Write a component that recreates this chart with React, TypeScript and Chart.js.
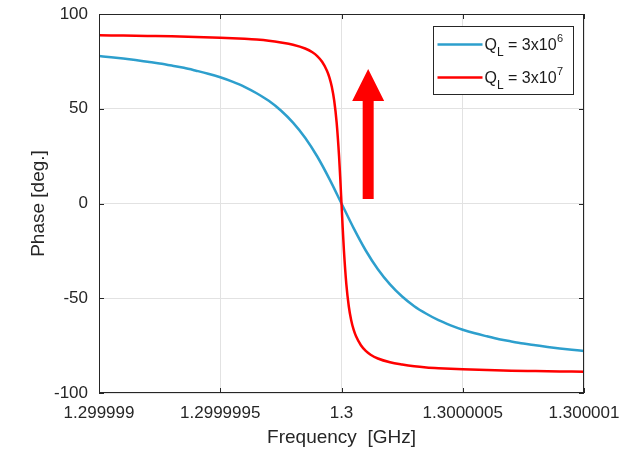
import React, { useEffect, useRef } from 'react';
import { Chart, registerables } from 'chart.js';

Chart.register(...registerables);

// ---------- data ----------
const blueFreq = [
  1.299999, 1.29999905, 1.2999991, 1.29999915, 1.2999992, 1.29999925, 1.2999993, 1.29999935,
  1.2999994, 1.29999945, 1.2999995, 1.29999955, 1.2999996, 1.29999965, 1.2999997, 1.29999975,
  1.2999998, 1.29999985, 1.2999999, 1.29999995, 1.3, 1.30000005, 1.3000001, 1.30000015,
  1.3000002, 1.30000025, 1.3000003, 1.30000035, 1.3000004, 1.30000045, 1.3000005, 1.30000055,
  1.3000006, 1.30000065, 1.3000007, 1.30000075, 1.3000008, 1.30000085, 1.3000009, 1.30000095,
  1.300001,
];
const bluePhase = [
  77.8, 77.2, 76.5, 75.7, 74.8, 73.9, 72.8, 71.6, 70.1, 68.5, 66.6, 64.3, 61.6, 58.2, 54.2, 49.1,
  42.7, 34.7, 24.8, 13.0, 0, -13.0, -24.8, -34.7, -42.7, -49.1, -54.2, -58.2, -61.6, -64.3, -66.6,
  -68.5, -70.1, -71.6, -72.8, -73.9, -74.8, -75.7, -76.5, -77.2, -77.8,
];

const redFreq = [
  1.299999, 1.2999991, 1.2999992, 1.2999993, 1.2999994, 1.2999995, 1.2999996, 1.29999965,
  1.2999997, 1.29999975, 1.2999998, 1.29999985, 1.29999988, 1.2999999, 1.29999992, 1.29999994,
  1.29999995, 1.29999996, 1.29999997, 1.29999998, 1.29999999, 1.299999995, 1.3, 1.300000005,
  1.30000001, 1.30000002, 1.30000003, 1.30000004, 1.30000005, 1.30000006, 1.30000008, 1.3000001,
  1.30000012, 1.30000015, 1.3000002, 1.30000025, 1.3000003, 1.30000035, 1.3000004, 1.3000005,
  1.3000006, 1.3000007, 1.3000008, 1.3000009, 1.300001,
];
const redPhase = [
  88.8, 88.6, 88.4, 88.2, 87.9, 87.5, 86.9, 86.5, 85.9, 85.0, 83.8, 81.8, 79.8, 77.8, 74.8, 70.1,
  66.6, 61.6, 54.2, 42.7, 24.8, 13.0, 0, -13.0, -24.8, -42.7, -54.2, -61.6, -66.6, -70.1, -74.8,
  -77.8, -79.8, -81.8, -83.8, -85.0, -85.9, -86.5, -86.9, -87.5, -87.9, -88.2, -88.4, -88.6, -88.8,
];

const seriesNames = ['QL = 3x10^6', 'QL = 3x10^7'];
const seriesExponents = ['6', '7'];

const xTickValues = [1.299999, 1.2999995, 1.3, 1.3000005, 1.300001];
const xTickLabels = ['1.299999', '1.2999995', '1.3', '1.3000005', '1.300001'];
const yTickValues = [-100, -50, 0, 50, 100];
const yTickLabels = ['-100', '-50', '0', '50', '100'];

const arrowFreq = 1.30000011;
const arrowFromPhase = 2.4;
const arrowToPhase = 71;

// ---------- styles ----------
const BLUE = '#2d9fcd';
const RED = '#ff0000';
const AXIS = '#262626';
const GRID = '#e2e2e2';
const FONT = '"Liberation Sans", Arial, Helvetica, sans-serif';

const framePlugin = {
  id: 'frame',
  afterDatasetsDraw(chart: any) {
    const { ctx, chartArea: a, scales } = chart;
    const xs = scales.x;
    const ys = scales.y;
    ctx.save();

    // arrow
    const ax = xs.getPixelForValue(arrowFreq);
    const ay0 = ys.getPixelForValue(arrowFromPhase);
    const ay1 = ys.getPixelForValue(arrowToPhase);
    const headLen = 32;
    const headHalf = 16;
    const shaftHalf = 5.5;
    ctx.fillStyle = RED;
    ctx.beginPath();
    ctx.moveTo(ax - shaftHalf, ay0);
    ctx.lineTo(ax - shaftHalf, ay1 + headLen);
    ctx.lineTo(ax - headHalf, ay1 + headLen);
    ctx.lineTo(ax, ay1);
    ctx.lineTo(ax + headHalf, ay1 + headLen);
    ctx.lineTo(ax + shaftHalf, ay1 + headLen);
    ctx.lineTo(ax + shaftHalf, ay0);
    ctx.closePath();
    ctx.fill();

    // inward ticks
    ctx.strokeStyle = AXIS;
    ctx.lineWidth = 1;
    ctx.beginPath();
    const tl = 5;
    xTickValues.forEach((v) => {
      const px = Math.round(xs.getPixelForValue(v)) + 0.5;
      ctx.moveTo(px, a.bottom);
      ctx.lineTo(px, a.bottom - tl);
      ctx.moveTo(px, a.top);
      ctx.lineTo(px, a.top + tl);
    });
    yTickValues.forEach((v) => {
      const py = Math.round(ys.getPixelForValue(v)) + 0.5;
      ctx.moveTo(a.left, py);
      ctx.lineTo(a.left + tl, py);
      ctx.moveTo(a.right, py);
      ctx.lineTo(a.right - tl, py);
    });
    ctx.stroke();

    // box
    ctx.strokeRect(Math.round(a.left) + 0.5, Math.round(a.top) + 0.5, Math.round(a.right - a.left) - 1, Math.round(a.bottom - a.top) - 1);
    ctx.restore();
  },
  afterDraw(chart: any) {
    const { ctx, chartArea: a } = chart;
    ctx.save();
    const boxW = 140;
    const boxH = 68;
    const bx = Math.round(a.right - 11 - boxW) + 0.5;
    const by = Math.round(a.top + 12) + 0.5;
    ctx.fillStyle = '#ffffff';
    ctx.fillRect(bx, by, boxW, boxH);
    ctx.strokeStyle = AXIS;
    ctx.lineWidth = 1;
    ctx.strokeRect(bx, by, boxW, boxH);

    const colors = [BLUE, RED];
    seriesNames.forEach((_name, i) => {
      const ly = by + 18 + i * 33;
      ctx.strokeStyle = colors[i];
      ctx.lineWidth = 2.5;
      ctx.beginPath();
      ctx.moveTo(bx + 4, ly);
      ctx.lineTo(bx + 49, ly);
      ctx.stroke();

      let tx = bx + 51;
      const base = ly + 5.5;
      ctx.fillStyle = '#1a1a1a';
      ctx.textAlign = 'left';
      ctx.textBaseline = 'alphabetic';
      ctx.font = `16px ${FONT}`;
      ctx.fillText('Q', tx, base);
      tx += ctx.measureText('Q').width;
      ctx.font = `12px ${FONT}`;
      ctx.fillText('L', tx, base + 6);
      tx += ctx.measureText('L').width;
      ctx.font = `16px ${FONT}`;
      const main = ' = 3x10';
      ctx.fillText(main, tx, base);
      tx += ctx.measureText(main).width;
      ctx.font = `11px ${FONT}`;
      ctx.fillText(seriesExponents[i], tx + 0.5, base - 8);
    });
    ctx.restore();
  },
};

export default function App() {
  const ref = useRef<HTMLCanvasElement>(null);
  useEffect(() => {
    document.body.style.margin = '0';
    const chart = new Chart(ref.current as HTMLCanvasElement, {
      type: 'line',
      data: {
        datasets: [
          {
            label: seriesNames[0],
            data: blueFreq.map((f, i) => ({ x: f, y: bluePhase[i] })),
            borderColor: BLUE,
            backgroundColor: BLUE,
            borderWidth: 2.5,
            pointRadius: 0,
            cubicInterpolationMode: 'monotone',
            order: 1,
          },
          {
            label: seriesNames[1],
            data: redFreq.map((f, i) => ({ x: f, y: redPhase[i] })),
            borderColor: RED,
            backgroundColor: RED,
            borderWidth: 2.5,
            pointRadius: 0,
            cubicInterpolationMode: 'monotone',
            order: 0,
          },
        ],
      },
      options: {
        responsive: false,
        animation: false,
        devicePixelRatio: 1,
        layout: { padding: { top: 14, right: 44, bottom: 0, left: 0 } },
        plugins: { legend: { display: false }, tooltip: { enabled: false } },
        scales: {
          x: {
            type: 'linear',
            min: 1.299999,
            max: 1.300001,
            afterBuildTicks: (s: any) => {
              s.ticks = xTickValues.map((v) => ({ value: v }));
            },
            afterFit: (s: any) => {
              s.height = 56;
              s.paddingLeft = 0;
              s.paddingRight = 0;
            },
            ticks: {
              callback: (_v: any, i: number) => xTickLabels[i],
              autoSkip: false,
              maxRotation: 0,
              minRotation: 0,
              padding: 10,
              color: AXIS,
              font: { family: FONT, size: 17 },
            },
            grid: { color: GRID, drawTicks: false, lineWidth: 1 },
            border: { display: false },
            title: {
              display: true,
              text: 'Frequency  [GHz]',
              color: AXIS,
              font: { family: FONT, size: 19 },
              padding: { top: 0, bottom: 0 },
            },
          },
          y: {
            type: 'linear',
            min: -100,
            max: 100,
            afterBuildTicks: (s: any) => {
              s.ticks = yTickValues.map((v) => ({ value: v }));
            },
            afterFit: (s: any) => {
              s.width = 99;
              s.paddingTop = 0;
              s.paddingBottom = 0;
            },
            ticks: {
              callback: (_v: any, i: number) => yTickLabels[i],
              autoSkip: false,
              padding: 11,
              color: AXIS,
              font: { family: FONT, size: 17 },
            },
            grid: { color: GRID, drawTicks: false, lineWidth: 1 },
            border: { display: false },
            title: {
              display: true,
              text: 'Phase [deg.]',
              color: AXIS,
              font: { family: FONT, size: 19 },
              padding: { top: 27, bottom: 0 },
            },
          },
        },
      },
      plugins: [framePlugin],
    } as any);
    return () => chart.destroy();
  }, []);
  return <canvas ref={ref} width={628} height={449} style={{ display: 'block' }} />;
}
